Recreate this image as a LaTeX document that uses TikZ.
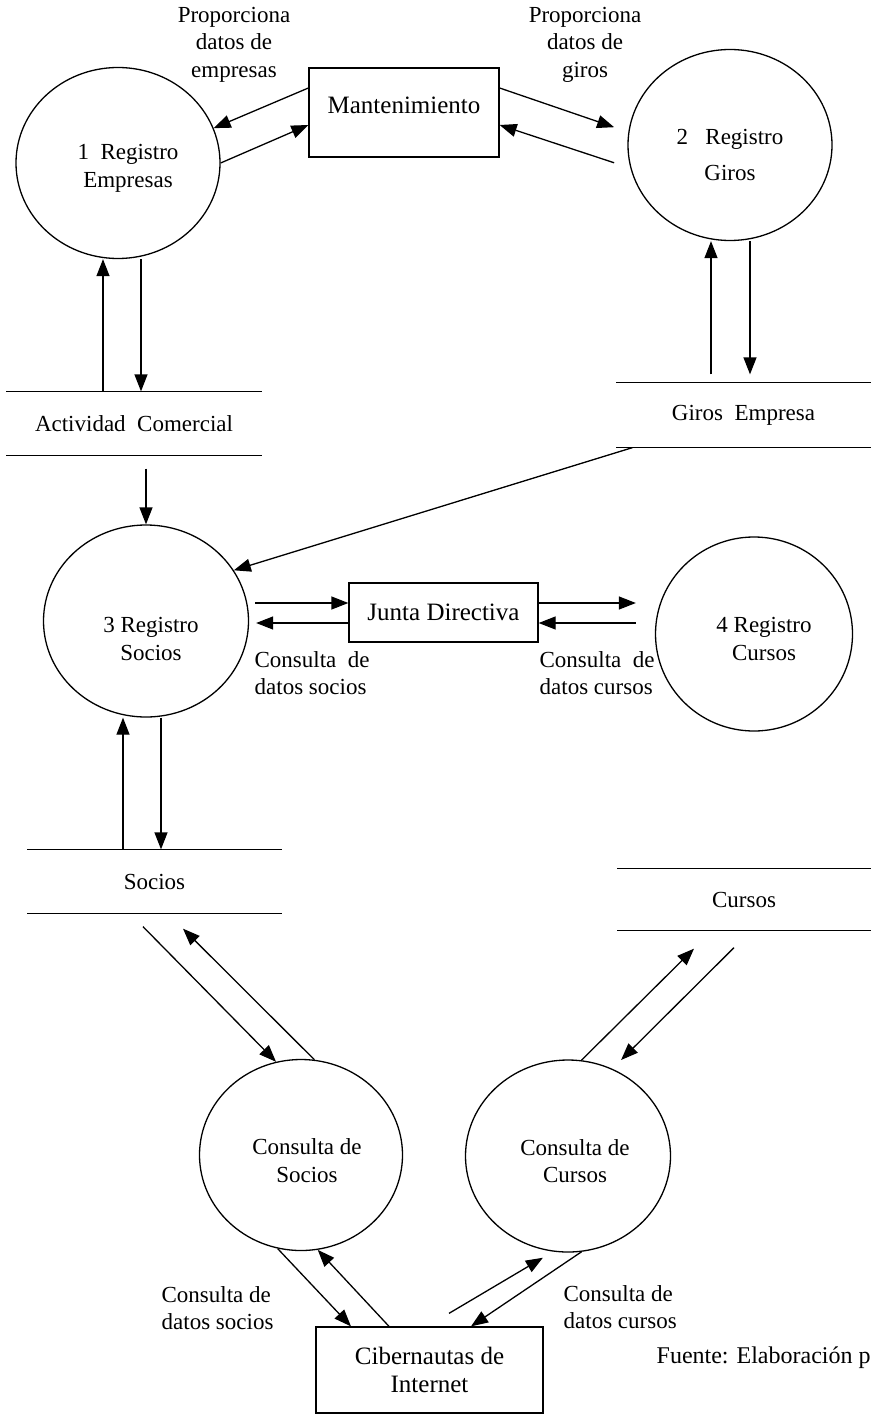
\documentclass[tikz,border=0pt]{standalone}
\usepackage{fontspec}
\setmainfont{Liberation Serif}
\usetikzlibrary{positioning}
\usetikzlibrary{arrows.meta,shapes.geometric}

\begin{document}
\begin{tikzpicture}[x=1pt,y=-1pt,line width=1.3pt,
  proc/.style={ellipse,draw,inner sep=0pt,minimum width=204pt,minimum height=191pt},
  ptxt/.style={align=center,font=\fontsize{23}{27.5}\selectfont},
  caja/.style={rectangle,draw,align=center,font=\fontsize{25}{28.5}\selectfont},
  almacen/.style={inner sep=0pt,minimum height=63pt,font=\fontsize{23}{27.5}\selectfont,
    append after command={(\tikzlastnode.north west) edge (\tikzlastnode.north east)
      (\tikzlastnode.south west) edge (\tikzlastnode.south east)}},
  flujo/.style={-{Triangle[length=17pt,width=13pt]}},
  etiq/.style={inner sep=0pt,align=center,font=\fontsize{23}{27.5}\selectfont}]
\useasboundingbox (0,0) rectangle (870,1415);
%procesos
\node[proc,label={[ptxt,xshift=10pt,yshift=-5.5pt]center:{1\ \ Registro\\Empresas}}] (reg_empresas) at (118,163) {};
\node[proc,label={[ptxt,yshift=-10pt]center:{2\ \ \ Registro\\[8.5pt]Giros}}] (reg_giros) at (730,145) {};
\node[proc,minimum width=205pt,minimum height=192pt,label={[ptxt,xshift=5pt,yshift=-18pt]center:{3 Registro\\Socios}}] (reg_socios) at (146,621) {};
\node[proc,minimum width=197pt,minimum height=194pt,label={[ptxt,xshift=10pt,yshift=-5pt]center:{4 Registro\\Cursos}}] (reg_cursos) at (754,634) {};
\node[proc,minimum width=203pt,label={[ptxt,xshift=6pt,yshift=-5.5pt]center:{Consulta de\\Socios}}] (cons_socios) at (301,1155) {};
\node[proc,minimum width=205pt,minimum height=192pt,label={[ptxt,xshift=7pt,yshift=-5pt]center:{Consulta de\\Cursos}}] (cons_cursos) at (568,1156) {};
%entidades
\node[caja,minimum width=190pt,minimum height=89pt,text depth=14pt] (mant) at (404,112.5) {Mantenimiento};
\node[caja,minimum width=189pt,minimum height=59pt] (junta) at (443.5,612.5) {Junta Directiva};
\node[caja,minimum width=227pt,minimum height=86pt] (ciber) at (429.5,1370) {Cibernautas de\\Internet};
%almacenes
\node[almacen,minimum width=254pt] (act_com) at (134,423.5) {Actividad\ \ Comercial};
\node[almacen,minimum width=253pt,minimum height=64pt] (giros_emp) at (743.5,415) {Giros\ \ Empresa};
\node[almacen,minimum width=253pt] (socios) at (154.5,881.5) {Socios};
\node[almacen,minimum width=252pt,minimum height=61pt] (cursos) at (744,899.5) {Cursos};

\draw[flujo] ([yshift=24.5pt]mant.west) -- (reg_empresas.20);
\draw[flujo] (reg_empresas.east) -- ([yshift=-12.5pt]mant.west);
\draw[flujo] ([yshift=24.5pt]mant.east) -- ([xshift=-15pt]reg_giros.170);
\draw[flujo] ([xshift=-15pt]reg_giros.190) -- ([yshift=-12.5pt]mant.east);

\coordinate (ac_up) at ([xshift=-31pt]act_com.north);
\coordinate (ac_dn) at ([xshift=23pt]reg_empresas.south);
\draw[flujo] (ac_up) -- (ac_up |- reg_empresas.south);
\draw[flujo] (ac_dn) -- (ac_dn |- act_com.north);
\coordinate (ge_up) at ([xshift=-32.5pt]giros_emp.north);
\coordinate (ge_dn) at ([xshift=20pt]reg_giros.south);
\draw[flujo,shorten <=8pt] (ge_up) -- (ge_up |- reg_giros.south);
\draw[flujo,shorten >=8pt] (ge_dn) -- (ge_dn |- giros_emp.north);

\draw[flujo,shorten <=13pt] (act_com.south -| reg_socios.north) -- (reg_socios.north);
\draw[flujo] ([xshift=16pt]giros_emp.south west) -- (reg_socios.30);

\coordinate (jd_a) at ([yshift=9.5pt]junta.west);
\coordinate (jd_b) at ([yshift=-10.5pt]junta.west);
\coordinate (jd_c) at ([yshift=9.5pt]junta.east);
\coordinate (jd_d) at ([yshift=-10.5pt]junta.east);
\draw[flujo,shorten <=6pt] (reg_socios.east |- jd_a) -- (jd_a);
\draw[flujo,shorten >=7pt] (jd_b) -- (reg_socios.east |- jd_b);
\draw[flujo,shorten >=19pt] (jd_c) -- (reg_cursos.west |- jd_c);
\draw[flujo,shorten <=19pt] (reg_cursos.west |- jd_d) -- (jd_d);

\coordinate (so_up) at ([xshift=-31.5pt]socios.north);
\coordinate (so_dn) at ([xshift=15pt]reg_socios.south);
\draw[flujo] (so_up) -- (so_up |- reg_socios.south);
\draw[flujo] (so_dn) -- (so_dn |- socios.north);

\draw[flujo] ([xshift=-11.5pt,yshift=-13pt]socios.south) -- (cons_socios.105);
\draw[flujo] (cons_socios.82) -- ([xshift=28.5pt,yshift=-15pt]socios.south);
\draw[flujo] (cons_cursos.82) -- ([xshift=-50pt,yshift=-18pt]cursos.south);
\draw[flujo] ([xshift=-10pt,yshift=-17pt]cursos.south) -- ([xshift=4pt,yshift=11pt]cons_cursos.60);

\draw[flujo] (cons_socios.-104) -- ([xshift=-78.5pt]ciber.north);
\draw[flujo] ([xshift=-40.5pt]ciber.north) -- (cons_socios.-80);
\draw[flujo] ([xshift=19.5pt,yshift=13pt]ciber.north) -- ([yshift=-8pt]cons_cursos.-105);
\draw[flujo] (cons_cursos.-82) -- ([xshift=41.5pt]ciber.north);
%etiquetas
\node[etiq] (prop_emp) at (234,44.5) {Proporciona\\datos de\\empresas};
\node[etiq] (prop_giros) at (585,44.5) {Proporciona\\datos de\\giros};
\node[etiq,anchor=west,align=left] (dat_socios) at (254,673) {Consulta\ \ de\\datos socios};
\node[etiq,anchor=west,align=left] (dat_cursos) at (539,673) {Consulta\ \ de\\datos cursos};
\node[etiq,anchor=west,align=left] (cib_socios) at (161,1308) {Consulta de\\datos socios};
\node[etiq,anchor=west,align=left] (cib_cursos) at (563,1307) {Consulta de\\datos cursos};
\node[etiq,anchor=west,font=\fontsize{24}{28}\selectfont] (fuente) at (656,1358) {Fuente: Elaboración p};
\end{tikzpicture}
\end{document}
